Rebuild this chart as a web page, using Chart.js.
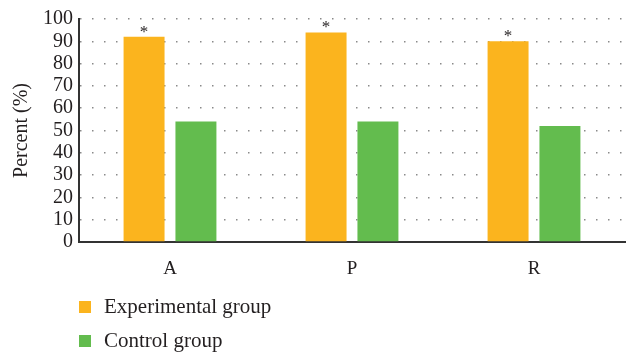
<!DOCTYPE html>
<html>
<head>
<meta charset="utf-8">
<script src="https://cdn.jsdelivr.net/npm/chart.js@4/dist/chart.umd.min.js"></script>
<style>
  html, body { margin: 0; padding: 0; background: #fff; }
  #wrap { width: 630px; height: 353px; position: relative; }
</style>
</head>
<body>
<div id="wrap"><canvas id="chart" width="630" height="353"></canvas></div>
<script>
// data
const categories = ["A", "P", "R"];
const experimental = [92, 94, 90];
const control = [54, 54, 52];
const marks = ["*", "*", "*"];   // significance marks over experimental bars
const yTicks = [0, 10, 20, 30, 40, 50, 60, 70, 80, 90, 100];

const FONT = "'Liberation Serif', 'DejaVu Serif', serif";
const TEXT = "#231f20";

// asterisks over the experimental bars
const starPlugin = {
  id: "stars",
  afterDatasetsDraw(chart) {
    const ctx = chart.ctx;
    const meta = chart.getDatasetMeta(0);
    ctx.save();
    ctx.fillStyle = TEXT;
    ctx.font = "17px " + FONT;
    ctx.textAlign = "center";
    ctx.textBaseline = "bottom";
    meta.data.forEach((bar, i) => {
      ctx.fillText(marks[i], bar.x, bar.y + 4);
    });
    ctx.restore();
  }
};

// vertical legend under the plot
const legendPlugin = {
  id: "vlegend",
  afterDraw(chart) {
    const ctx = chart.ctx;
    const left = chart.chartArea.left;
    ctx.save();
    ctx.font = "21px " + FONT;
    ctx.textBaseline = "middle";
    chart.data.datasets.forEach((ds, i) => {
      const y = 307 + i * 34;
      ctx.fillStyle = ds.backgroundColor;
      ctx.fillRect(left, y - 6, 12, 12);
      ctx.fillStyle = TEXT;
      ctx.fillText(ds.label, left + 25, y);
    });
    ctx.restore();
  }
};

const ctx = document.getElementById("chart").getContext("2d");
new Chart(ctx, {
  type: "bar",
  data: {
    labels: categories,
    datasets: [
      { label: "Experimental group", data: experimental, backgroundColor: "#fbb41e" },
      { label: "Control group", data: control, backgroundColor: "#63bc4e" }
    ]
  },
  options: {
    responsive: false,
    animation: false,
    datasets: { bar: { categoryPercentage: 0.57, barPercentage: 0.79 } },
    layout: { padding: { top: 19, right: 5, bottom: 71, left: 10 } },
    plugins: {
      legend: { display: false },
      tooltip: { enabled: false }
    },
    scales: {
      x: {
        grid: { display: false, drawTicks: false },
        border: { color: "#333", width: 2 },
        ticks: { color: TEXT, font: { family: FONT, size: 19 }, padding: 16 },
        afterFit(scale) { scale.height = 40; }
      },
      y: {
        min: 0,
        max: 100,
        afterBuildTicks(scale) { scale.ticks = yTicks.map(v => ({ value: v })); },
        grid: { color: "#8a8a8a", lineWidth: 1.5, drawTicks: false },
        border: { color: "#333", width: 2, dash: [1.5, 10.5] },
        ticks: { color: TEXT, font: { family: FONT, size: 20 }, padding: 6, autoSkip: false },
        title: { display: true, text: "Percent (%)", color: TEXT, font: { family: FONT, size: 20 }, padding: { top: 0, bottom: 0 } },
        afterFit(scale) { scale.width = 69; }
      }
    }
  },
  plugins: [starPlugin, legendPlugin]
});
</script>
</body>
</html>
